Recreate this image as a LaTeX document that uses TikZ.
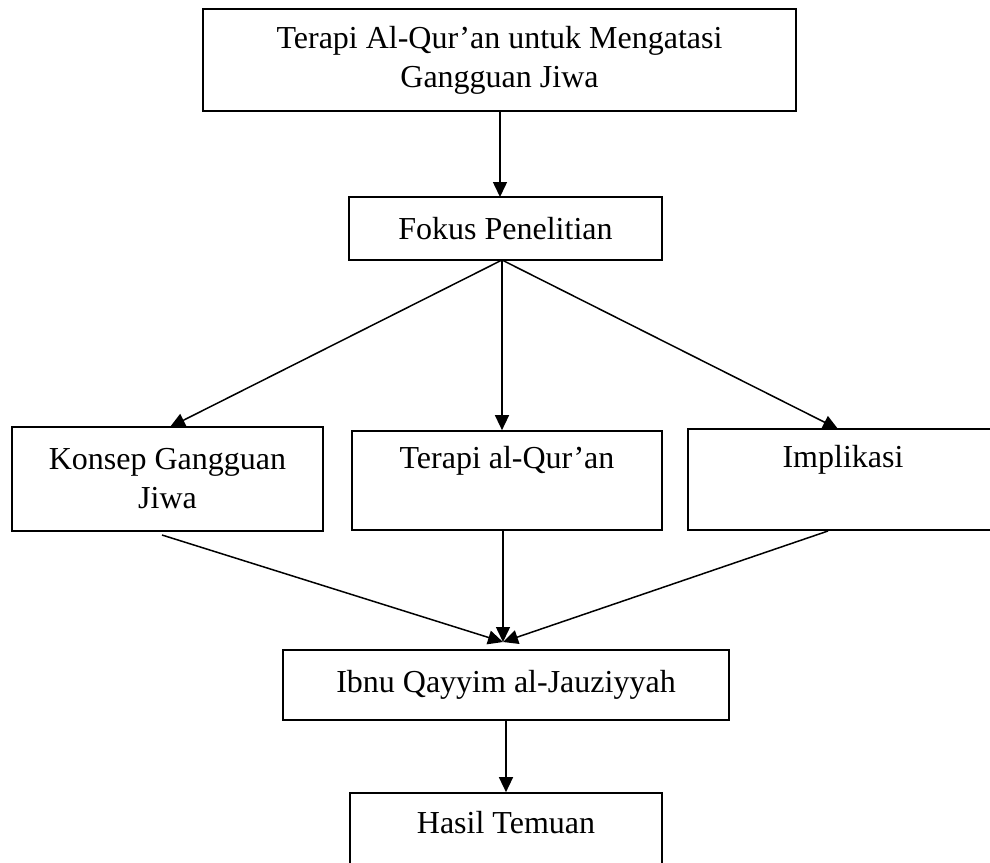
\documentclass[tikz,border=0pt]{standalone}
\usepackage{fontspec}
\setmainfont{Liberation Serif}
\usetikzlibrary{arrows.meta}
\begin{document}
\begin{tikzpicture}[x=1pt,y=-1pt,
  box/.style={draw, line width=1.7pt, inner sep=0pt, align=center, font=\fontsize{32}{39}\selectfont},
  txt/.style={inner sep=0pt, font=\fontsize{32}{39}\selectfont},
  arr/.style={-{Triangle[length=15pt,width=14pt]}, line width=1.5pt}]
\useasboundingbox (0,0) rectangle (990,862);
\clip (0,0) rectangle (990,862);
\fill[white] (0,0) rectangle (990,862);

% boxes
\node[box, minimum width=593pt, minimum height=102pt] (top) at (499.5,60) {Terapi Al-Qur’an untuk Mengatasi\\Gangguan Jiwa};
\node[box, minimum width=313pt, minimum height=63pt] (fokus) at (505.5,228.5) {Fokus Penelitian};
\node[box, minimum width=311pt, minimum height=104pt] (konsep) at (167.5,479) {Konsep Gangguan\\Jiwa};
\node[box, minimum width=310pt, minimum height=99pt] (terapi) at (507,480.5) {};
\node[txt] (terapiT) at (507,461) {Terapi al-Qur’an};
\node[box, minimum width=310pt, minimum height=101pt] (impl) at (843,479.5) {};
\node[txt] (implT) at (843,460) {Implikasi};
\node[box, minimum width=446pt, minimum height=70pt] (ibnu) at (506,685) {Ibnu Qayyim al-Jauziyyah};
\node[box, minimum width=312pt, minimum height=100pt] (hasil) at (506,843) {};
\node[txt] (hasilT) at (506,823) {Hasil Temuan};

% helper coordinates
\coordinate (fs) at (502,260);
\coordinate (kIn) at (170,427);
\coordinate (iIn) at (838,429);
\coordinate (kOut) at (162,535);
\coordinate (tOut) at (503,530);
\coordinate (iOut) at (828,531);
\coordinate (meet) at (503,642);

% connectors
\draw[arr] (top.south -| 500,0) -- (500,197);
\draw[arr] (fs) -- (kIn);
\draw[arr] (fs) -- (fs |- terapi.north);
\draw[arr] (fs) -- (iIn);
\draw[arr] (kOut) -- (meet);
\draw[arr] (tOut) -- (meet);
\draw[arr] (iOut) -- (meet);
\draw[arr] (ibnu.south) -- (hasil.north);
\end{tikzpicture}
\end{document}
